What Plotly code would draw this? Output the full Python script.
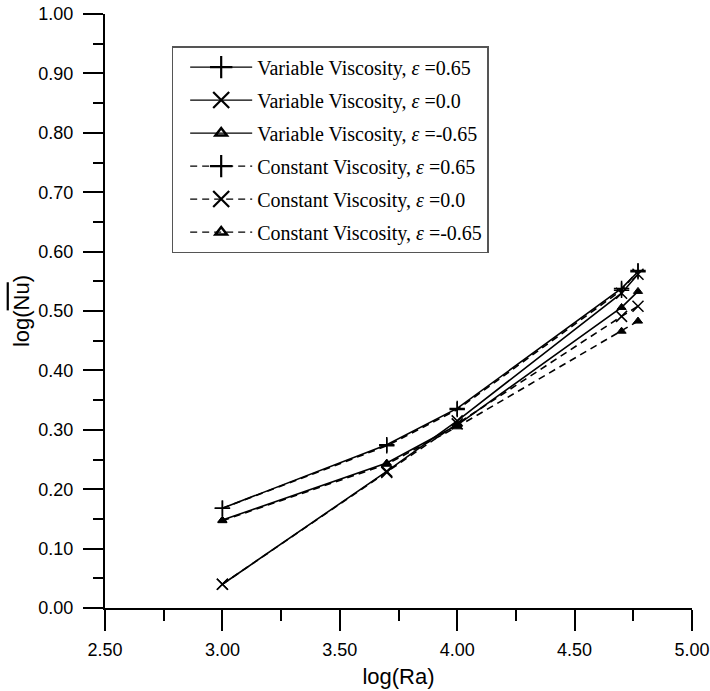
import plotly.graph_objects as go

# log(Ra) values
log_ra = [3.00, 3.70, 4.00, 4.70, 4.77]

# log(Nu-bar) values
var_p065 = [0.168, 0.275, 0.336, 0.538, 0.566]
var_0 = [0.040, 0.230, 0.315, 0.530, 0.562]
var_m065 = [0.148, 0.244, 0.308, 0.506, 0.533]
con_p065 = [0.168, 0.273, 0.334, 0.535, 0.568]
con_0 = [0.040, 0.228, 0.310, 0.491, 0.508]
con_m065 = [0.147, 0.242, 0.305, 0.466, 0.483]

names = [
    "Variable Viscosity, <i>ε</i> =0.65",
    "Variable Viscosity, <i>ε</i> =0.0",
    "Variable Viscosity, <i>ε</i> =-0.65",
    "Constant Viscosity, <i>ε</i> =0.65",
    "Constant Viscosity, <i>ε</i> =0.0",
    "Constant Viscosity, <i>ε</i> =-0.65",
]
series = [var_p065, var_0, var_m065, con_p065, con_0, con_m065]
symbols = ["cross-thin", "x-thin", "triangle-up", "cross-thin", "x-thin", "triangle-up"]
dashes = ["solid", "solid", "solid", "7px,5px", "7px,5px", "7px,5px"]

x_ticks = [2.5, 3.0, 3.5, 4.0, 4.5, 5.0]
x_ticktext = ["2.50", "3.00", "3.50", "4.00", "4.50", "5.00"]
y_ticks = [0, 0.1, 0.2, 0.3, 0.4, 0.5, 0.6, 0.7, 0.8, 0.9, 1.0]
y_ticktext = ["0.00", "0.10", "0.20", "0.30", "0.40", "0.50", "0.60", "0.70", "0.80", "0.90", "1.00"]

fig = go.Figure()

for i, (nm, ys) in enumerate(zip(names, series)):
    sym = symbols[i]
    if sym == "triangle-up":
        mk = dict(symbol="triangle-up", size=8, color="black", line=dict(color="black", width=1))
    else:
        mk = dict(symbol=sym, size=11, color="black", line=dict(color="black", width=1.5))
    fig.add_trace(go.Scatter(
        x=log_ra, y=ys, mode="lines+markers", showlegend=False,
        line=dict(color="black", width=1.6, dash=dashes[i]),
        marker=mk,
    ))

# legend entries
for i, nm in enumerate(names):
    sym = symbols[i]
    if sym == "triangle-up":
        mk = dict(symbol="triangle-up-open", size=10, color="black", line=dict(color="black", width=2.5))
    else:
        mk = dict(symbol=sym, size=16, color="black", line=dict(color="black", width=2.2))
    fig.add_trace(go.Scatter(
        x=[None], y=[None], mode="lines+markers", name=nm, legendgroup=str(i),
        line=dict(color="black", width=1.3, dash=dashes[i]),
        marker=mk,
    ))

fig.update_layout(
    width=710, height=691,
    margin=dict(l=105, r=18, t=14, b=83),
    paper_bgcolor="white", plot_bgcolor="white",
    font=dict(family="Liberation Sans, Arial, sans-serif", color="black"),
    xaxis=dict(
        range=[2.5, 5.0], tickvals=x_ticks, ticktext=x_ticktext,
        ticks="outside", ticklen=21, tickwidth=2, tickcolor="black",
        minor=dict(dtick=0.25, tick0=2.5, ticks="outside", ticklen=11, tickwidth=2, tickcolor="black"),
        showline=True, linecolor="black", linewidth=2,
        showgrid=False, zeroline=False, automargin=False,
        ticklabeloverflow="allow", ticklabelstandoff=3,
        tickfont=dict(size=18),
        title=dict(text="log(Ra)", font=dict(size=22), standoff=10),
    ),
    yaxis=dict(
        range=[0.0, 1.0], tickvals=y_ticks, ticktext=y_ticktext,
        ticks="outside", ticklen=20, tickwidth=2, tickcolor="black",
        minor=dict(dtick=0.05, tick0=0, ticks="outside", ticklen=10, tickwidth=2, tickcolor="black"),
        showline=True, linecolor="black", linewidth=2,
        showgrid=False, zeroline=False, automargin=False,
        ticklabeloverflow="allow", ticklabelstandoff=6,
        tickfont=dict(size=18),
        title=dict(text='log(<span style="text-decoration:overline">Nu</span>)', font=dict(size=22), standoff=3),
    ),
    legend=dict(
        x=0.1136, y=0.946, xanchor="left", yanchor="top",
        bgcolor="white", bordercolor="#555", borderwidth=1.5,
        font=dict(family="Liberation Serif, Times New Roman, serif", size=20, color="black"),
        itemwidth=62, tracegroupgap=4, indentation=12,
    ),
)

fig.write_html("out.html", config={"displayModeBar": False},
               post_script="document.body.style.margin='0';document.body.style.overflow='hidden';")
